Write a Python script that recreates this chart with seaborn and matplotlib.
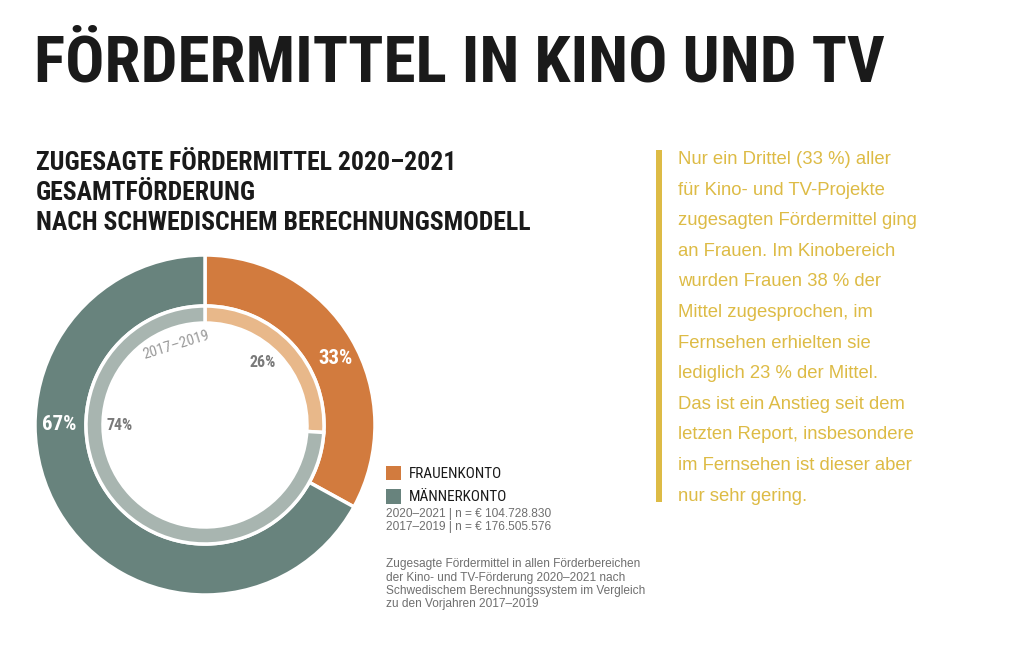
import numpy as np
import matplotlib
matplotlib.use("Agg")
import matplotlib.pyplot as plt
import seaborn as sns
from matplotlib.patches import Patch, Rectangle

# ==========================================================
# Data
# ==========================================================
accounts = ["FRAUENKONTO", "MÄNNERKONTO"]
share_2020_2021 = [33, 67]
share_2017_2019 = [26, 74]
n_lines = ["2020–2021 | n = € 104.728.830", "2017–2019 | n = € 176.505.576"]

title = "FÖRDERMITTEL IN KINO UND TV"
subtitle = ["ZUGESAGTE FÖRDERMITTEL 2020–2021",
            "GESAMTFÖRDERUNG",
            "NACH SCHWEDISCHEM BERECHNUNGSMODELL"]
caption = ["Zugesagte Fördermittel in allen Förderbereichen",
           "der Kino- und TV-Förderung 2020–2021 nach",
           "Schwedischem Berechnungssystem im Vergleich",
           "zu den Vorjahren 2017–2019"]
side_text = ["Nur ein Drittel (33 %) aller",
             "für Kino- und TV-Projekte",
             "zugesagten Fördermittel ging",
             "an Frauen. Im Kinobereich",
             "wurden Frauen 38 % der",
             "Mittel zugesprochen, im",
             "Fernsehen erhielten sie",
             "lediglich 23 % der Mittel.",
             "Das ist ein Anstieg seit dem",
             "letzten Report, insbesondere",
             "im Fernsehen ist dieser aber",
             "nur sehr gering."]

outer_colors = ["#D27B3E", "#68837D"]
inner_colors = ["#E8B88A", "#A8B5B0"]
yellow = "#DDBB45"
grey_txt = "#6f6f6f"

sns.set_theme(style="white")
cond = ["Roboto Condensed", "Archivo Narrow", "DejaVu Sans"]
plt.rcParams["font.family"] = ["Liberation Sans", "DejaVu Sans"]

W, H = 1024, 652
fig = plt.figure(figsize=(W / 100, H / 100), dpi=100)
fig.patch.set_facecolor("white")

def fx(px):
    return px / W

def fy(py):
    return 1 - py / H

# ==========================================================
# Titles
# ==========================================================
fig.text(fx(34), fy(82), title, family=cond, fontweight="bold",
         fontsize=47, color="#1a1a1a", va="baseline", ha="left")

for i, line in enumerate(subtitle):
    fig.text(fx(36), fy(170 + i * 30), line, family=cond, fontweight="bold",
             fontsize=18.5, color="#1a1a1a", va="baseline", ha="left")

# ==========================================================
# Donut
# ==========================================================
cx, cy, R = 205, 425, 170
ax = fig.add_axes([fx(cx - R), fy(cy + R), 2 * R / W, 2 * R / H])
ax.pie(share_2020_2021, radius=1, colors=outer_colors, startangle=90,
       counterclock=False,
       wedgeprops=dict(width=0.30, edgecolor="white", linewidth=2.5))
ax.pie(share_2017_2019, radius=0.70, colors=inner_colors, startangle=90,
       counterclock=False,
       wedgeprops=dict(width=0.10, edgecolor="white", linewidth=2.5))
ax.set_xlim(-1, 1)
ax.set_ylim(-1, 1)
ax.set_aspect("equal")
ax.axis("off")

# percentage labels (angle in degrees, radius)
def polar(angle, r):
    a = np.deg2rad(angle)
    return r * np.cos(a), r * np.sin(a)

x, y = polar(27, 0.86)
ax.text(x, y, f"{share_2020_2021[0]}%", family=cond, fontweight="bold",
        fontsize=15, color="white", ha="center", va="center")
x, y = polar(180, 0.86)
ax.text(x, y, f"{share_2020_2021[1]}%", family=cond, fontweight="bold",
        fontsize=15, color="white", ha="center", va="center")
x, y = polar(47, 0.50)
ax.text(x, y, f"{share_2017_2019[0]}%", family=cond, fontweight="bold",
        fontsize=11.5, color="#7a7a7a", ha="center", va="center")
x, y = polar(180, 0.50)
ax.text(x, y, f"{share_2017_2019[1]}%", family=cond, fontweight="bold",
        fontsize=11.5, color="#7a7a7a", ha="center", va="center")
x, y = polar(110, 0.50)
ax.text(x, y, "2017–2019", family=cond, fontsize=11, color="#9a9a9a",
        ha="center", va="center", rotation=17)

# ==========================================================
# Legend and notes
# ==========================================================
handles = [Patch(facecolor=c, edgecolor="none") for c in outer_colors]
fig.legend(handles, accounts, loc="upper left",
           bbox_to_anchor=(fx(375), fy(455)), frameon=False,
           handlelength=1.0, handleheight=1.1, handletextpad=0.5,
           labelspacing=0.5, borderpad=0.2,
           prop=dict(family=cond, size=11), labelcolor="#1a1a1a")

for i, line in enumerate(n_lines):
    fig.text(fx(386), fy(517 + i * 13), line, fontsize=8.6,
             color=grey_txt, va="baseline", ha="left")

for i, line in enumerate(caption):
    fig.text(fx(386), fy(567 + i * 13.5), line, fontsize=8.6,
             color=grey_txt, va="baseline", ha="left")

# ==========================================================
# Side text with yellow bar
# ==========================================================
fig.patches.append(Rectangle((fx(656), fy(502)), 6 / W, 352 / H,
                             transform=fig.transFigure, facecolor=yellow,
                             edgecolor="none"))
for i, line in enumerate(side_text):
    fig.text(fx(678), fy(164 + i * 30.6), line, fontsize=13.3,
             color=yellow, va="baseline", ha="left")

fig.savefig("out.png", dpi=100, facecolor="white")
